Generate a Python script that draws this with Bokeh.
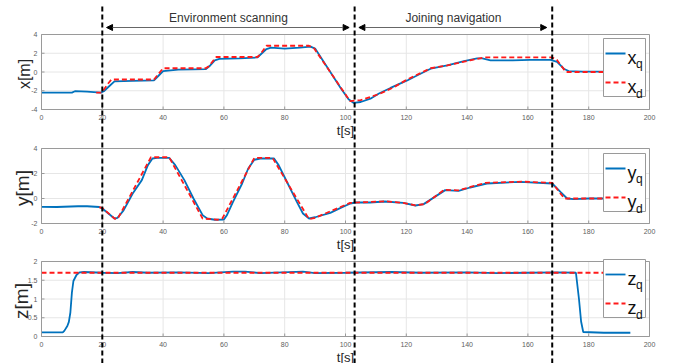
import math
from bokeh.plotting import figure
from bokeh.models import Range1d, Arrow, NormalHead
from bokeh.core.properties import value
from bokeh.embed import file_html
from bokeh.resources import INLINE

FONT = "Liberation Sans"
BLUE = "#0072BD"
RED = "#FF1A1A"
GRAY = "#9a9a9a"

# ---------------- data ----------------
x_ticks = [0, 20, 40, 60, 80, 100, 120, 140, 160, 180, 200]
x_tick_labels = ["0", "20", "40", "60", "80", "100", "120", "140", "160", "180", "200"]
phase_t = [20, 103, 168]
phase_names = ["Environment scanning", "Joining navigation"]

t_xq = [0, 10, 11, 15, 19.5, 20.5, 22, 24, 30, 37, 38.5, 40, 45, 50, 54, 55.5, 57, 58.5, 65, 71,
        72.5, 74, 75.5, 80, 85, 88.5, 90, 95, 98.4, 101, 102.7, 105, 108.2, 111, 114.8, 120.3, 124,
        128, 133.5, 139, 143.3, 145, 147.7, 155, 160.8, 167.4, 169.6, 171.8, 173.4, 178, 185, 193.5]
xq = [-2.2, -2.2, -2.05, -2.1, -2.2, -2.05, -1.6, -1.0, -0.95, -0.9, -0.4, 0.1, 0.25, 0.28, 0.3,
      0.7, 1.25, 1.4, 1.45, 1.55, 2.0, 2.45, 2.6, 2.5, 2.6, 2.7, 2.5, 0.0, -1.7, -2.9, -3.3, -3.2,
      -2.85, -2.3, -1.7, -0.9, -0.3, 0.35, 0.7, 1.15, 1.45, 1.45, 1.25, 1.25, 1.3, 1.3, 1.07, 0.35,
      0.1, 0.05, 0.05, 0.05]
t_xd = [18, 19.5, 20.5, 22, 23, 37, 38, 40, 54, 55, 57.5, 71, 72, 74, 88, 89.5, 101.5, 105, 111.5,
        116, 120.3, 128, 133.5, 141, 145.5, 168, 169.5, 172.5, 185, 193.5]
xd = [-2.2, -2.2, -1.9, -1.2, -0.8, -0.8, -0.4, 0.4, 0.4, 0.6, 1.6, 1.6, 1.9, 2.8, 2.8, 2.6, -3.1,
      -3.0, -2.3, -1.6, -0.8, 0.4, 0.7, 1.25, 1.55, 1.55, 1.3, 0.0, 0.0, 0.0]

t_yq = [0, 5, 12, 15, 19, 20, 22, 24, 25, 27, 30, 33, 35, 36.5, 38, 42, 44, 47, 50, 53, 54.5, 57,
        60, 61, 63, 66, 68, 70, 72, 76.5, 78, 81, 84, 86, 88, 90, 95, 98.4, 101.6, 103.3, 108, 113,
        119, 123, 125.7, 132.8, 137.2, 141, 146.5, 157.5, 168, 170.7, 172.9, 175, 180, 193.5]
yq = [-0.67, -0.68, -0.62, -0.62, -0.68, -0.8, -1.2, -1.6, -1.55, -0.95, 0.4, 1.47, 2.67, 3.2,
      3.25, 3.25, 2.67, 1.47, 0.0, -1.33, -1.6, -1.7, -1.68, -1.33, -0.27, 1.2, 2.4, 3.1, 3.2, 3.2,
      2.67, 1.2, -0.27, -1.2, -1.6, -1.5, -1.15, -0.75, -0.4, -0.32, -0.32, -0.24, -0.35, -0.56,
      -0.45, 0.67, 0.61, 0.88, 1.2, 1.33, 1.2, 0.53, 0.0, -0.05, 0.0, 0.0]
t_yd = [19, 20, 24, 25, 36, 42, 53, 58, 59.5, 70, 76, 88, 90, 101.5, 113, 119, 123, 126, 132.5,
        137, 146, 158, 168, 172, 185, 193.5]
yd = [-0.7, -0.75, -1.6, -1.65, 3.3, 3.3, -1.6, -1.7, -1.6, 3.25, 3.25, -1.65, -1.55, -0.35, -0.22,
      -0.35, -0.55, -0.45, 0.7, 0.65, 1.25, 1.35, 1.25, 0.0, 0.0, 0.0]

t_zq = [0, 7, 7.5, 8.5, 9, 9.5, 10, 10.5, 11.5, 12.5, 14, 20, 25, 30, 35, 45, 55, 63, 67, 72, 86,
        90, 100, 115, 125, 140, 150, 160, 170, 175.8, 176.8, 177.5, 178.2, 185, 193.7]
zq = [0.11, 0.11, 0.15, 0.28, 0.39, 0.64, 1.17, 1.48, 1.64, 1.71, 1.72, 1.70, 1.69, 1.72, 1.70,
      1.71, 1.69, 1.73, 1.73, 1.69, 1.73, 1.69, 1.70, 1.72, 1.70, 1.71, 1.69, 1.70, 1.71, 1.70, 1.0,
      0.4, 0.12, 0.1, 0.1]
t_zd = [0, 193.5]
zd = [1.7, 1.7]

x_yticks = [-4, -2, 0, 2, 4]
y_yticks = [-2, 0, 2, 4]
z_yticks = [0, 0.5, 1, 1.5, 2]

# ---------------- layout (pixels) ----------------
W, H = 674, 363
PL, PR = 41, 649
T0, T1 = 0, 200
# name, top px, bottom px, data lo, data hi, ticks, y label, label size, label x, legend top, series
panels = [
    ("x", 34, 109, -4, 4, x_yticks, "x[m]", "16px", 24, 38, t_xq, xq, t_xd, xd),
    ("y", 148, 223, -2, 4, y_yticks, "y[m]", "19px", 22, 153, t_yq, yq, t_yd, yd),
    ("z", 261, 336, 0, 2, z_yticks, "z[m]", "19px", 21, 259, t_zq, zq, t_zd, zd),
]

s_t = (PR - PL) / (T1 - T0)
extra_y = {}
for name, top, bot, lo, hi, *_ in panels:
    s = (bot - top) / (hi - lo)
    extra_y[name] = Range1d(lo - (H - bot) / s, hi + top / s)

p = figure(width=W, height=H, x_range=Range1d(0, W), y_range=Range1d(H, 0),
           output_backend="svg", toolbar_location=None, min_border=0,
           x_axis_location=None, y_axis_location=None)
p.extra_x_ranges = {"t": Range1d(T0 - PL / s_t, T1 + (W - PR) / s_t)}
p.extra_y_ranges = extra_y
p.grid.visible = False
p.outline_line_color = None
p.background_fill_color = "white"
p.border_fill_color = "white"

F = value(FONT)

for (name, top, bot, lo, hi, yticks, ylab, ylab_size, ylab_x, leg_top,
     tq, vq, td, vd) in panels:
    n = len(x_ticks)
    # grid
    p.segment(x0=x_ticks, x1=x_ticks, y0=[top] * n, y1=[bot] * n, x_range_name="t",
              line_color="#e6e6e6", line_width=1)
    p.segment(x0=[T0] * len(yticks), x1=[T1] * len(yticks), y0=yticks, y1=yticks,
              x_range_name="t", y_range_name=name, line_color="#e6e6e6", line_width=1)
    # data
    p.line(tq, vq, x_range_name="t", y_range_name=name, line_color=BLUE, line_width=1.8)
    p.line(td, vd, x_range_name="t", y_range_name=name, line_color=RED, line_width=1.8,
           line_dash="5 3")
    # box and inward ticks
    p.quad(left=[PL], right=[PR], top=[top], bottom=[bot], fill_color=None, line_color=GRAY,
           line_width=1)
    p.segment(x0=x_ticks, x1=x_ticks, y0=[bot] * n, y1=[bot - 3] * n, x_range_name="t",
              line_color=GRAY)
    p.segment(x0=[PL] * len(yticks), x1=[PL + 3] * len(yticks), y0=yticks, y1=yticks,
              y_range_name=name, line_color=GRAY)
    # tick labels
    p.text(x=x_ticks, y=[bot + 7.5] * n, text=x_tick_labels, x_range_name="t",
           text_font=F, text_font_size="7px", text_color="#606060",
           text_align="center", text_baseline="middle")
    p.text(x=[PL - 4] * len(yticks), y=yticks, text=[f"{v:g}" for v in yticks],
           y_range_name=name, text_font=F, text_font_size="7px", text_color="#606060",
           text_align="right", text_baseline="middle")
    # axis labels
    p.text(x=[(T0 + T1) / 2], y=[bot + 20.5], text=["t[s]"], x_range_name="t",
           text_font=F, text_font_size="13px", text_color="#262626",
           text_align="center", text_baseline="middle")
    p.text(x=[ylab_x], y=[(top + bot) / 2 + 2], text=[ylab], angle=math.pi / 2,
           text_font=F, text_font_size=ylab_size, text_color="#262626",
           text_align="center", text_baseline="middle")
    # legend
    p.quad(left=[603], right=[645], top=[leg_top], bottom=[leg_top + 58], fill_color="white",
           line_color=GRAY, line_width=1)
    p.segment(x0=[605], x1=[625], y0=[leg_top + 15], y1=[leg_top + 15], line_color=BLUE,
              line_width=1.8)
    p.segment(x0=[605], x1=[625], y0=[leg_top + 44], y1=[leg_top + 44], line_color=RED,
              line_width=1.8, line_dash="5 3")
    p.text(x=[627, 627], y=[leg_top + 19, leg_top + 48], text=[name, name], text_font=F,
           text_font_size="18px", text_color="#111111", text_baseline="alphabetic")
    p.text(x=[635.5, 635.5], y=[leg_top + 25, leg_top + 55], text=["q", "d"], text_font=F,
           text_font_size="12px", text_color="#111111", text_baseline="alphabetic")

# phase separators
p.segment(x0=phase_t, x1=phase_t, y0=[6] * len(phase_t), y1=[H] * len(phase_t),
          x_range_name="t", line_color="black", line_width=2, line_dash="5 3")

# phase arrows and names
for a, b, label in zip(phase_t[:-1], phase_t[1:], phase_names):
    p.add_layout(Arrow(start=NormalHead(size=6, fill_color="black", line_color="black"),
                       end=NormalHead(size=6, fill_color="black", line_color="black"),
                       x_start=a + 1.4, x_end=b - 1.8, y_start=27, y_end=27,
                       x_range_name="t", line_color="#666666", line_width=1))
    p.text(x=[(a + b) / 2], y=[17], text=[label], x_range_name="t", text_font=F,
           text_font_size="12px", text_color="#333333", text_align="center",
           text_baseline="middle")

open("out.html", "w").write(file_html(p, INLINE))
